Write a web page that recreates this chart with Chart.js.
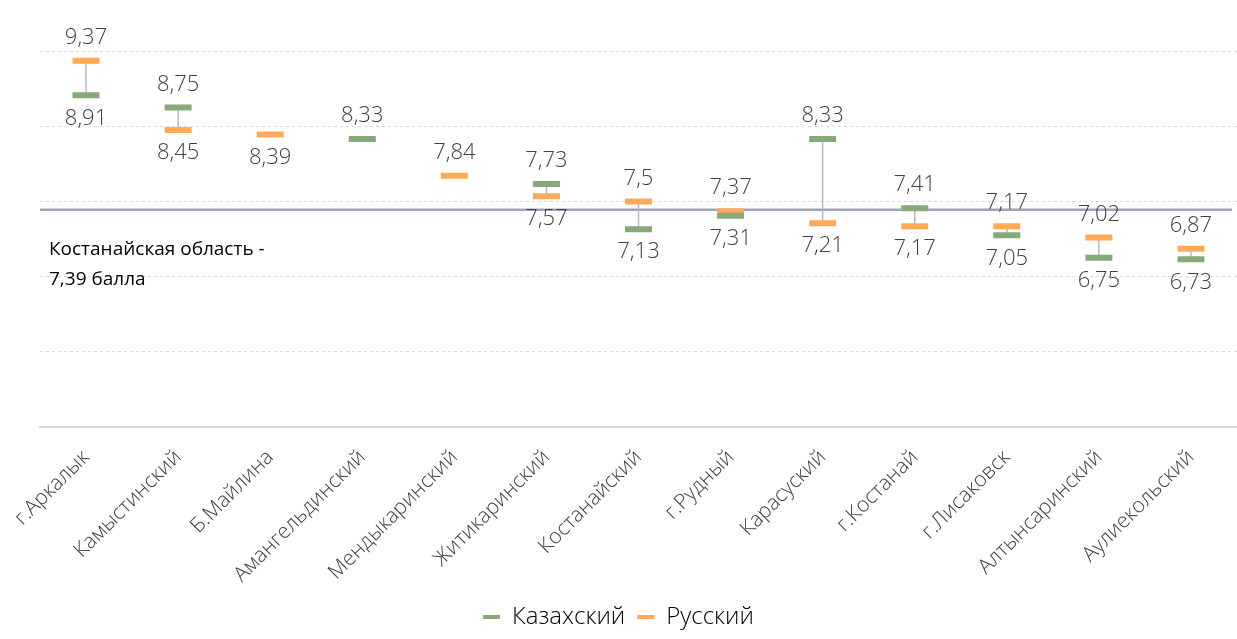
<!DOCTYPE html>
<html lang="ru">
<head>
<meta charset="utf-8">
<title>Баллы по районам</title>
<script src="https://cdn.jsdelivr.net/npm/chart.js@4.4.1/dist/chart.umd.min.js"></script>
<style>
  html, body { margin: 0; padding: 0; background: #fff; overflow: hidden; }
  #wrap { width: 1237px; height: 639px; position: relative; }
  #chart { display: block; }
</style>
</head>
<body>
<div id="wrap"><canvas id="chart"></canvas></div>
<script>
const regions = ['г.Аркалык', 'Камыстинский', 'Б.Майлина', 'Амангельдинский', 'Мендыкаринский',
  'Житикаринский', 'Костанайский', 'г.Рудный', 'Карасуский', 'г.Костанай', 'г.Лисаковск',
  'Алтынсаринский', 'Аулиекольский'];
const kazakh = [8.91, 8.75, null, 8.33, null, 7.73, 7.13, 7.31, 8.33, 7.41, 7.05, 6.75, 6.73];
const russian = [9.37, 8.45, 8.39, null, 7.84, 7.57, 7.5, 7.37, 7.21, 7.17, 7.17, 7.02, 6.87];
const oblastAvg = 7.39;
const avgLabel = ['Костанайская область -', '7,39 балла'];

const GREEN = '#87a878';
const ORANGE = '#ffaa58';
const FONT = "'Segoe UI', 'Open Sans', sans-serif";

// single-value columns whose label sits under the mark
const labelBelow = new Set(['Б.Майлина']);

const fmt = v => String(v).replace('.', ',');

// grey connector between the two marks of a district + the oblast average line
const connectorPlugin = {
  id: 'connectors',
  beforeDatasetsDraw(chart) {
    const { ctx, chartArea, scales: { x, y } } = chart;
    ctx.save();
    // oblast average
    const ya = y.getPixelForValue(oblastAvg);
    ctx.strokeStyle = '#a3a3b6';
    ctx.lineWidth = 2.5;
    ctx.beginPath();
    ctx.moveTo(chartArea.left, ya);
    ctx.lineTo(chartArea.right - 5, ya);
    ctx.stroke();

    ctx.fillStyle = '#000';
    ctx.font = '19px ' + FONT;
    ctx.textBaseline = 'middle';
    ctx.textAlign = 'left';
    ctx.fillText(avgLabel[0], chartArea.left + 9, 250);
    ctx.fillText(avgLabel[1], chartArea.left + 9, 280);

    ctx.strokeStyle = '#b8b8b8';
    ctx.lineWidth = 1.5;
    regions.forEach((r, i) => {
      if (kazakh[i] == null || russian[i] == null) return;
      const px = x.getPixelForValue(i);
      ctx.beginPath();
      ctx.moveTo(px, y.getPixelForValue(kazakh[i]));
      ctx.lineTo(px, y.getPixelForValue(russian[i]));
      ctx.stroke();
    });
    ctx.restore();
  }
};

// value labels: higher mark labelled above, lower one below
const valueLabels = {
  id: 'valueLabels',
  afterDatasetsDraw(chart) {
    const { ctx, scales: { x, y } } = chart;
    ctx.save();
    ctx.fillStyle = '#404040';
    ctx.font = '300 22px ' + FONT;
    ctx.textAlign = 'center';
    ctx.textBaseline = 'middle';
    regions.forEach((r, i) => {
      const px = x.getPixelForValue(i);
      const k = kazakh[i], ru = russian[i];
      const put = (v, above) => {
        const py = y.getPixelForValue(v);
        ctx.fillText(fmt(v), px, above ? py - 23 : py + 23);
      };
      if (k != null && ru != null) {
        put(Math.max(k, ru), true);
        put(Math.min(k, ru), false);
      } else {
        const v = k != null ? k : ru;
        put(v, !labelBelow.has(r));
      }
    });
    ctx.restore();
  }
};

const ctx = document.getElementById('chart').getContext('2d');
Chart.defaults.font.family = FONT;

new Chart(ctx, {
  type: 'line',
  data: {
    labels: regions,
    datasets: [
      {
        label: 'Казахский',
        data: kazakh,
        showLine: false,
        pointStyle: 'line',
        pointRadius: 13.5,
        pointHoverRadius: 13.5,
        pointBorderWidth: 6,
        pointHoverBorderWidth: 6,
        borderColor: GREEN,
        backgroundColor: GREEN
      },
      {
        label: 'Русский',
        data: russian,
        showLine: false,
        pointStyle: 'line',
        pointRadius: 13.5,
        pointHoverRadius: 13.5,
        pointBorderWidth: 6,
        pointHoverBorderWidth: 6,
        borderColor: ORANGE,
        backgroundColor: ORANGE
      }
    ]
  },
  options: {
    responsive: true,
    maintainAspectRatio: false,
    animation: false,
    layout: { autoPadding: false, padding: { top: 51, left: 0, right: 0, bottom: 0 } },
    plugins: {
      legend: {
        position: 'bottom',
        labels: {
          boxWidth: 17,
          boxHeight: 4,
          color: '#7f7f7f',
          font: { size: 24, weight: 300 },
          padding: 12,
          generateLabels(chart) {
            return chart.data.datasets.map((ds, i) => ({
              text: ds.label,
              fillStyle: ds.borderColor,
              strokeStyle: ds.borderColor,
              lineWidth: 0,
              datasetIndex: i
            }));
          }
        }
      },
      tooltip: { enabled: false }
    },
    scales: {
      x: {
        offset: true,
        grid: { display: false },
        border: { display: true, color: '#d9d9d9', width: 2 },
        ticks: {
          color: '#404040',
          font: { size: 21, weight: 300 },
          minRotation: 45,
          maxRotation: 45,
          autoSkip: false,
          padding: 10
        },
        afterFit(scale) {
          scale.height = 166;
          scale.paddingLeft = 0;
          scale.paddingRight = 0;
        }
      },
      y: {
        min: 4.5,
        max: 9.5,
        ticks: { display: false, stepSize: 1 },
        border: { display: false, dash: [3, 3] },
        grid: {
          color: '#d9d9d9',
          lineWidth: 1,
          drawTicks: false
        },
        afterFit(scale) { scale.width = 40; }
      }
    }
  },
  plugins: [connectorPlugin, valueLabels]
});
</script>
</body>
</html>
